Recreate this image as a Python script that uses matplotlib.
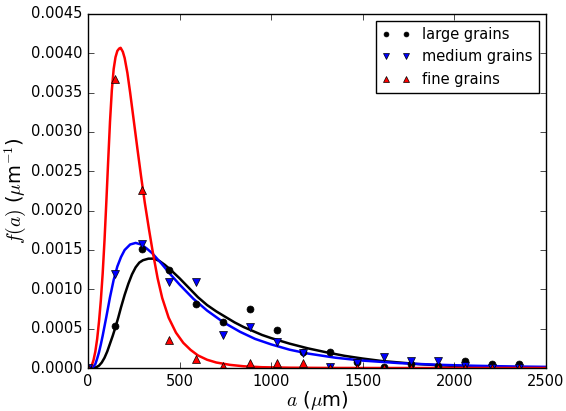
import matplotlib
matplotlib.use("Agg")
import matplotlib.pyplot as plt

plt.style.use("classic")

# measured points (grain size a in um, density f(a) in 1/um)
a_pts = [0, 147, 294, 441, 588, 735, 882, 1029, 1176, 1323, 1470,
         1617, 1764, 1911, 2058, 2205, 2352]
large_pts = [0.0, 0.00053, 0.00151, 0.00125, 0.00081, 0.00059, 0.00075,
             0.00048, 0.00020, 0.00020, 0.00008, 0.00001, 0.00005,
             0.00002, 0.000093, 0.000047, 0.000047]
medium_pts = [0.0, 0.00120, 0.00157, 0.00109, 0.00109, 0.00042, 0.00052,
              0.00033, 0.000195, 0.00001, 0.00006, 0.00014, 0.000093,
              0.000093, 0.00002, 0.0, 0.0]
fine_pts = [0.0, 0.00367, 0.00226, 0.00036, 0.00011, 0.00003, 0.000068,
            0.000068, 0.000068, 0.0, 0.0, 0.0, 0.0, 0.0, 0.0, 0.0, 0.0]

# fitted curves
a_large = [0, 30, 45, 60, 75, 90, 105, 120, 135, 150, 165, 180, 200, 220,
           240, 260, 280, 300, 330, 360, 390, 420, 450, 500, 550, 600, 650,
           700, 757, 800, 850, 900, 950, 1000, 1100, 1200, 1300, 1400, 1500,
           1600, 1700, 1800, 1900, 2000, 2200, 2350, 2500]
f_large = [0.0, 0.0, 0.00001, 0.00003, 0.00007, 0.00013, 0.00021, 0.00031,
           0.00041, 0.00052, 0.00064, 0.00077, 0.00093, 0.00107, 0.00119,
           0.00128, 0.00134, 0.00137, 0.00139, 0.00139, 0.00136, 0.00131,
           0.00125, 0.00114, 0.00102, 0.00090, 0.00080, 0.00072, 0.00064,
           0.00058, 0.00052, 0.00047, 0.00042, 0.00038, 0.00031, 0.00025,
           0.00020, 0.000155, 0.00012, 0.00009, 0.00007, 0.00005, 0.000037,
           0.000027, 0.000015, 0.00001, 0.000006]

a_medium = [0, 20, 30, 40, 50, 60, 70, 80, 90, 100, 120, 140, 160, 180, 200,
            230, 260, 290, 320, 350, 400, 450, 500, 575, 650, 740, 830, 912,
            1000, 1100, 1200, 1350, 1500, 1700, 1900, 2100, 2300, 2500]
f_medium = [0.0, 0.000003, 0.00002, 0.00005, 0.00012, 0.00020, 0.00030,
            0.00041, 0.00053, 0.00065, 0.00090, 0.00112, 0.00129, 0.00141,
            0.00150, 0.00157, 0.00159, 0.00157, 0.00152, 0.00146, 0.00133,
            0.00119, 0.00106, 0.00088, 0.00073, 0.00058, 0.00046, 0.00037,
            0.00030, 0.000233, 0.000184, 0.000131, 0.000094, 0.000062,
            0.000042, 0.000029, 0.00002, 0.0000145]

a_fine = [0, 10, 20, 30, 40, 50, 60, 70, 80, 90, 100, 110, 120, 130, 140,
          150, 160, 170, 178, 190, 200, 215, 230, 250, 270, 290, 310, 333,
          353, 380, 405, 440, 480, 520, 560, 600, 650, 700, 775, 850, 950,
          1100, 1300, 1600, 2500]
f_fine = [0.0, 0.000005, 0.00003, 0.00010, 0.00021, 0.00037, 0.00059,
          0.00086, 0.00120, 0.00162, 0.00211, 0.00263, 0.00313, 0.00353,
          0.00380, 0.00395, 0.00403, 0.00406, 0.00407, 0.00402, 0.00394,
          0.00375, 0.00350, 0.00314, 0.00278, 0.00243, 0.00210, 0.00176,
          0.00148, 0.00114, 0.00089, 0.00064, 0.00045, 0.00032, 0.00023,
          0.00016, 0.000105, 0.00007, 0.00004, 0.000022, 0.00001, 0.000004,
          0.000001, 0.0, 0.0]

fig = plt.figure(figsize=(5.66, 4.11), dpi=100, facecolor="white")
ax = fig.add_axes([0.1555, 0.1046, 0.8092, 0.8614])

ax.plot(a_large, f_large, "k-", lw=1.8)
ax.plot(a_medium, f_medium, "b-", lw=1.8)
ax.plot(a_fine, f_fine, "r-", lw=1.8)

ax.plot(a_pts, large_pts, "ko", ms=5, mew=0.5, label="large grains")
ax.plot(a_pts, medium_pts, "bv", ms=5.5, mew=0.5, label="medium grains")
ax.plot(a_pts, fine_pts, "r^", ms=5.5, mew=0.5, label="fine grains")

ax.set_xlim(0, 2500)
ax.set_ylim(0, 0.0045)
ax.set_xticks([0, 500, 1000, 1500, 2000, 2500])
ax.set_yticks([0.0005 * i for i in range(10)])
ax.set_yticklabels(["%.4f" % (0.0005 * i) for i in range(10)])
ax.tick_params(labelsize=10.5)

ax.set_xlabel(r"$a$ ($\mu$m)", fontsize=14, labelpad=0)
ax.set_ylabel(r"$f(a)$ ($\mu$m$^{-1}$)", fontsize=14, labelpad=2)

ax.legend(loc="upper right", numpoints=2, fontsize=10.5, markerscale=0.7)

fig.savefig("out.png", dpi=100, facecolor="white")
